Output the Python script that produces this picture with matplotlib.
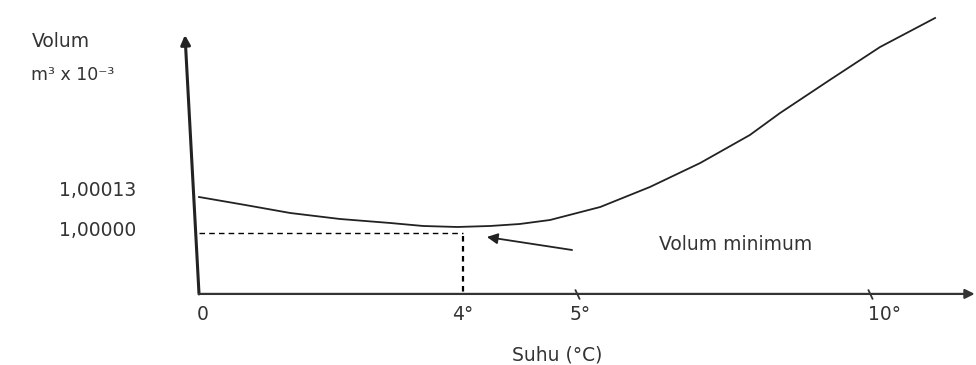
import numpy as np
from matplotlib import pyplot as plt

# curve (temperature in degC, volume in m3 x 10^-3)
suhu = [0.0, 0.69, 1.36, 2.10, 2.85, 3.34, 3.85, 4.34, 4.78, 5.23, 5.98,
        6.72, 7.47, 8.21, 8.66, 9.40, 10.15, 10.97]
volum = [1.0001300, 1.0001011, 1.0000722, 1.0000506, 1.0000361, 1.0000253, 1.0000217,
         1.0000253, 1.0000325, 1.0000469, 1.0000939, 1.0001661, 1.0002528, 1.0003539,
         1.0004333, 1.0005525, 1.0006716, 1.0007764]

t_min = 3.93
v_min = 1.00000
v_ref = [1.00013, 1.00000]
v_ref_labels = ['1,00013', '1,00000']
x_ticks = [0.06, 3.93, 5.68, 10.22]
x_tick_labels = ['0', '4°', '5°', '10°']

axis_y = 0.99978
fs = 13.5
txt = '#333333'

fig = plt.figure(figsize=(9.76, 3.65), dpi=100)
ax = fig.add_axes([0, 0, 1, 1])
ax.set_xlim(-2.966, 11.58)
ax.set_ylim(0.9995233, 1.0008414)
ax.axis('off')

# axes drawn by hand (y axis slightly tilted like the sketch)
ax.annotate('', xy=(-0.209, 1.000715), xytext=(0.0, axis_y),
            arrowprops=dict(arrowstyle='-|>', color='#222222', lw=2.2, mutation_scale=14, shrinkA=0, shrinkB=0))
ax.annotate('', xy=(11.56, axis_y), xytext=(0.0, axis_y),
            arrowprops=dict(arrowstyle='-|>', color='#333333', lw=1.6, mutation_scale=14, shrinkA=0, shrinkB=0))
ax.plot([5.63, 10.0], [axis_y, axis_y], ls='', marker=(2, 0, 25), ms=8, mew=1.3, color='#333333')

# curve
ax.plot(suhu, volum, color='#222222', lw=1.3)

# minimum guides
ax.plot([0.0, t_min], [v_min, v_min], color='black', lw=1.0, ls=(0, (4, 3)))
ax.plot([t_min, t_min], [v_min - 0.0000125, axis_y], color='black', lw=1.6, ls=(0, (2.5, 2)))

ax.annotate('', xy=(4.29, 0.9999856), xytext=(5.56, 0.9999386),
            arrowprops=dict(arrowstyle='-|>', color='#222222', lw=1.3, mutation_scale=16, shrinkA=0, shrinkB=0))
ax.text(8.0, 0.9999567, 'Volum minimum', fontsize=fs, color=txt, ha='center', va='center')

# labels
ax.text(-2.057, 1.00069, 'Volum', fontsize=fs, color=txt, ha='center', va='center')
ax.text(-1.878, 1.000571, 'm³ x 10⁻³', fontsize=fs - 1, color=txt, ha='center', va='center')
for v, lab, dy in zip(v_ref, v_ref_labels, [0.000025, 0.0000108]):
    ax.text(-1.505, v + dy, lab, fontsize=fs, color=txt, ha='center', va='center')
for t, lab in zip(x_ticks, x_tick_labels):
    ax.text(t, 0.999704, lab, fontsize=fs, color=txt, ha='center', va='center')
ax.text(5.335, 0.9995595, 'Suhu (°C)', fontsize=fs, color=txt, ha='center', va='center')

plt.savefig('out.png', dpi=100)
